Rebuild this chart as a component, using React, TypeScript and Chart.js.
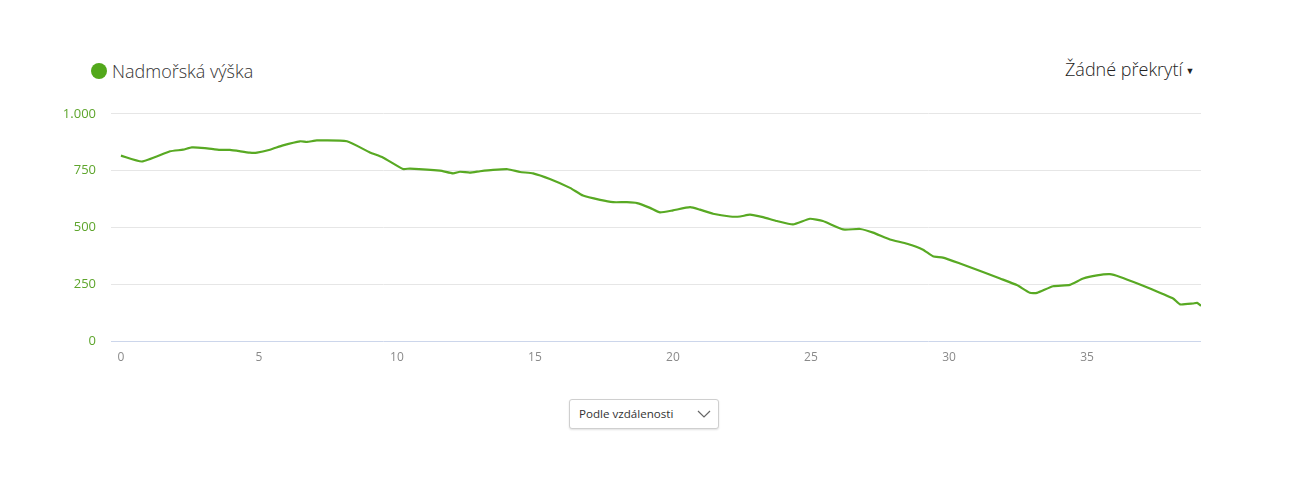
import React, { useEffect, useRef } from "react";
import { Chart, registerables } from "chart.js";

Chart.register(...registerables);

const distanceKm = [
  0, 0.76, 1.78, 2.25, 2.57, 3.04, 3.59, 3.95, 4.67, 4.93, 5.4, 5.87, 6.49, 6.74, 7.1, 8.19,
  9.02, 9.49, 10.22, 10.47, 11.56, 12.03, 12.28, 12.64, 13.01, 13.48, 14.02, 14.46, 14.93,
  15.54, 16.27, 16.74, 17.36, 17.83, 18.33, 18.7, 19.17, 19.53, 20.0, 20.62, 20.98, 21.45,
  22.07, 22.43, 22.79, 23.26, 23.77, 24.35, 24.96, 25.43, 26.16, 26.78, 27.25, 27.86, 28.48,
  29.06, 29.42, 29.78, 30.4, 31.23, 31.85, 32.46, 32.93, 33.19, 33.77, 34.38, 34.86, 35.36,
  35.83, 36.2, 36.92, 37.28, 38.12, 38.37, 38.84, 38.99, 39.13,
];

const elevationM = [
  816, 790, 835, 842, 852, 849, 841, 841, 829, 829, 842, 861, 879, 876, 883, 879,
  830, 808, 757, 759, 750, 738, 745, 741, 747, 753, 756, 744, 738,
  713, 674, 640, 621, 611, 611, 607, 586, 566, 575, 589, 578, 560,
  548, 548, 556, 545, 528, 513, 538, 528, 491, 493, 477, 447, 428,
  402, 373, 367, 341, 304, 275, 246, 212, 212, 241, 247, 275, 289,
  294, 282, 249, 231, 187, 161, 165, 168, 155,
];

const xTickValues = [0, 5, 10, 15, 20, 25, 30, 35];
const yTickValues = [0, 250, 500, 750, 1000];
const yTickLabels = ["0", "250", "500", "750", "1.000"];

const seriesName = "Nadmořská výška";
const overlayLabel = "Žádné překrytí";
const modeLabel = "Podle vzdálenosti";

const GREEN = "#58a923";

export default function App() {
  const canvasRef = useRef<HTMLCanvasElement | null>(null);

  useEffect(() => {
    if (!canvasRef.current) return;
    const chart = new Chart(canvasRef.current, {
      type: "line",
      data: {
        datasets: [
          {
            label: seriesName,
            data: distanceKm.map((d, i) => ({ x: d, y: elevationM[i] })),
            borderColor: GREEN,
            borderWidth: 2.2,
            pointRadius: 0,
            fill: false,
            tension: 0.15,
          },
        ],
      },
      options: {
        animation: false,
        responsive: false,
        devicePixelRatio: 1,
        layout: { padding: { left: 0, right: 91, top: 14, bottom: 0 } },
        plugins: { legend: { display: false }, tooltip: { enabled: false } },
        scales: {
          x: {
            type: "linear",
            min: -0.36,
            max: 39.13,
            afterBuildTicks: (s: any) => {
              s.ticks = xTickValues.map((v) => ({ value: v }));
            },
            afterFit: (s: any) => {
              s.height = 34;
            },
            grid: { display: false, drawTicks: false },
            border: { display: false },
            ticks: {
              color: "#8a8a8a",
              padding: 9,
              maxRotation: 0,
              autoSkip: false,
              font: { family: "'Open Sans', sans-serif", size: 12 },
              callback: (v: any) => String(v),
            },
          },
          y: {
            min: 0,
            max: 1000,
            afterBuildTicks: (s: any) => {
              s.ticks = yTickValues.map((v) => ({ value: v }));
            },
            afterFit: (s: any) => {
              s.width = 111;
            },
            grid: {
              drawTicks: false,
              color: (ctx: any) => (ctx.tick && ctx.tick.value === 0 ? "#ccd6eb" : "#e6e6e6"),
              lineWidth: 1,
            },
            border: { display: false },
            ticks: {
              color: "#5ea52c",
              padding: 15,
              autoSkip: false,
              font: { family: "'Open Sans', sans-serif", size: 13 },
              callback: (v: any) => {
                const i = yTickValues.indexOf(Number(v));
                return i >= 0 ? yTickLabels[i] : "";
              },
            },
          },
        },
      },
    });
    return () => chart.destroy();
  }, []);

  return (
    <div
      style={{
        position: "fixed",
        left: 0,
        top: 0,
        width: 1292,
        height: 490,
        background: "#fff",
        fontFamily: "'Open Sans', sans-serif",
        color: "#333",
      }}
    >
      <div
        style={{
          position: "absolute",
          left: 91,
          top: 63,
          width: 16,
          height: 16,
          borderRadius: "50%",
          background: "#52a81b",
        }}
      />
      <div
        style={{
          position: "absolute",
          left: 112,
          top: 58,
          fontSize: 18,
          fontWeight: 300,
          lineHeight: "26px",
          color: "#333",
          whiteSpace: "nowrap",
        }}
      >
        {seriesName}
      </div>
      <div
        style={{
          position: "absolute",
          left: 1065,
          top: 56,
          fontSize: 18,
          fontWeight: 300,
          lineHeight: "26px",
          color: "#222",
          whiteSpace: "nowrap",
        }}
      >
        {overlayLabel}
        <span style={{ fontSize: 9, marginLeft: 3, verticalAlign: "2px" }}>▼</span>
      </div>
      <canvas
        ref={canvasRef}
        width={1292}
        height={284}
        style={{ position: "absolute", left: 0, top: 91, width: 1292, height: 284 }}
      />
      <div
        style={{
          position: "absolute",
          left: 569,
          top: 399,
          width: 148,
          height: 28,
          border: "1px solid #cfcfcf",
          borderRadius: 3,
          boxShadow: "0 1px 2px rgba(0,0,0,0.12)",
          background: "#fff",
        }}
      >
        <div
          style={{
            position: "absolute",
            left: 9,
            top: 0,
            lineHeight: "28px",
            fontSize: 11.6,
            color: "#333",
            whiteSpace: "nowrap",
          }}
        >
          {modeLabel}
        </div>
        <svg
          style={{ position: "absolute", left: 127, top: 9 }}
          width="14"
          height="10"
          viewBox="0 0 14 10"
        >
          <polyline points="1,2 7,8 13,2" fill="none" stroke="#666" strokeWidth="1.2" />
        </svg>
      </div>
    </div>
  );
}
